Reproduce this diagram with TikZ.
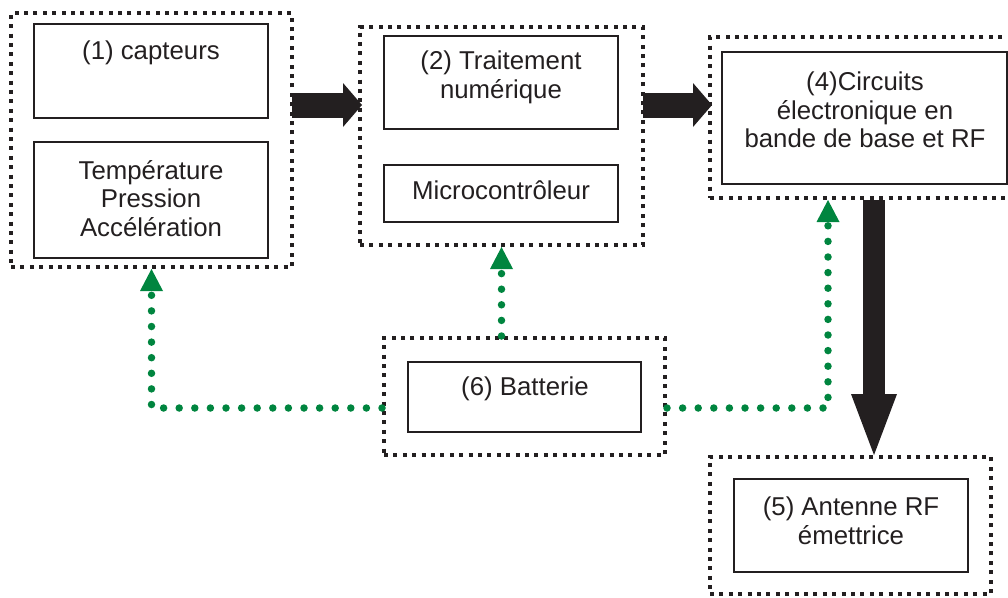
\documentclass[tikz,border=0pt]{standalone}
\usepackage{fontspec}
\setmainfont{Liberation Sans}
\usetikzlibrary{arrows.meta}
\definecolor{ink}{HTML}{231F20}
\definecolor{dgreen}{HTML}{00853F}
\begin{document}
\begin{tikzpicture}[x=1pt,y=-1pt,
  outerbox/.style={draw=ink, line width=4pt, dash pattern=on 4pt off 5.4pt},
  innerbox/.style={draw=ink, line width=1.6pt},
  txt/.style={text=ink, font=\fontsize{25.8}{28.5}\selectfont, align=center, inner sep=0pt},
  bigarrow/.style={draw=ink, line width=25pt, -{Triangle[length=19pt,width=44pt,line width=0pt]}},
  vbigarrow/.style={draw=ink, line width=22pt, -{Triangle[length=61pt,width=46pt,line width=0pt]}},
  greendots/.style={draw=dgreen, line width=7.5pt, line cap=round, dash pattern=on 0pt off 15.6pt,
     -{Triangle[length=22pt,width=23pt,line width=0pt]}}
]
\useasboundingbox (0,0) rectangle (1008,597);
\clip (0,0) rectangle (1008,597);

\node[outerbox, minimum width=281pt, minimum height=254pt] (box1) at (151.5,140) {};
\node[outerbox, minimum width=283pt, minimum height=218pt] (box2) at (501.5,136) {};
\node[outerbox, minimum width=310pt, minimum height=161pt] (box4) at (865,117.5) {};
\node[outerbox, minimum width=281pt, minimum height=117pt] (box6) at (524.5,396.5) {};
\node[outerbox, minimum width=281pt, minimum height=137pt] (box5) at (850.5,525.5) {};

\node[innerbox, minimum width=234pt, minimum height=94pt] (cap) at (151,71) {};
\node[innerbox, minimum width=234pt, minimum height=116pt] (temp) at (151,200) {};
\node[innerbox, minimum width=234pt, minimum height=93pt] (trait) at (501,82.5) {};
\node[innerbox, minimum width=234pt, minimum height=57pt] (micro) at (501,193.5) {};
\node[innerbox, minimum width=285pt, minimum height=132pt] (circ) at (864.5,118) {};
\node[innerbox, minimum width=233pt, minimum height=70pt] (batt) at (524.5,397) {};
\node[innerbox, minimum width=234pt, minimum height=93pt] (ant) at (851,525.5) {};

\node[txt, anchor=base] (tcap) at (151,59) {(1) capteurs};
\node[txt] (ttemp) at (151,198.5) {Température\\Pression\\Accélération};
\node[txt] (ttrait) at (501,77.5) {(2) Traitement\\numérique};
\node[txt, anchor=base] (tmicro) at (501,199) {Microcontrôleur};
\node[txt] (tcirc) at (865,110) {(4)Circuits\\électronique en\\bande de base et RF};
\node[txt, anchor=base] (tbatt) at (525,395) {(6) Batterie};
\node[txt] (tant) at (851,521) {(5) Antenne RF\\émettrice};

% black arrows
\coordinate (a1) at ([yshift=35pt]box1.east);
\coordinate (a2) at ([yshift=31pt]box2.east);
\coordinate (a3) at ([xshift=9pt]box4.south);
\draw[bigarrow] ([xshift=-2pt]a1) -- ([xshift=4pt]a1 -| box2.west);
\draw[bigarrow] ([xshift=-2pt]a2) -- ([xshift=4pt]a2 -| box4.west);
\draw[vbigarrow] (a3) -- (a3 |- box5.north);

% green dotted supply lines
\coordinate (g1) at ([yshift=-11.5pt]box6.west);
\coordinate (g3) at ([yshift=-11.5pt]box6.east);
\coordinate (g4) at ([xshift=-37pt]box4.south);
\draw[greendots] (g1) -| (box1.south);
\draw[greendots] (box2.south |- box6.north) -- (box2.south);
\draw[greendots] (g3) -| (g4);
\end{tikzpicture}
\end{document}
